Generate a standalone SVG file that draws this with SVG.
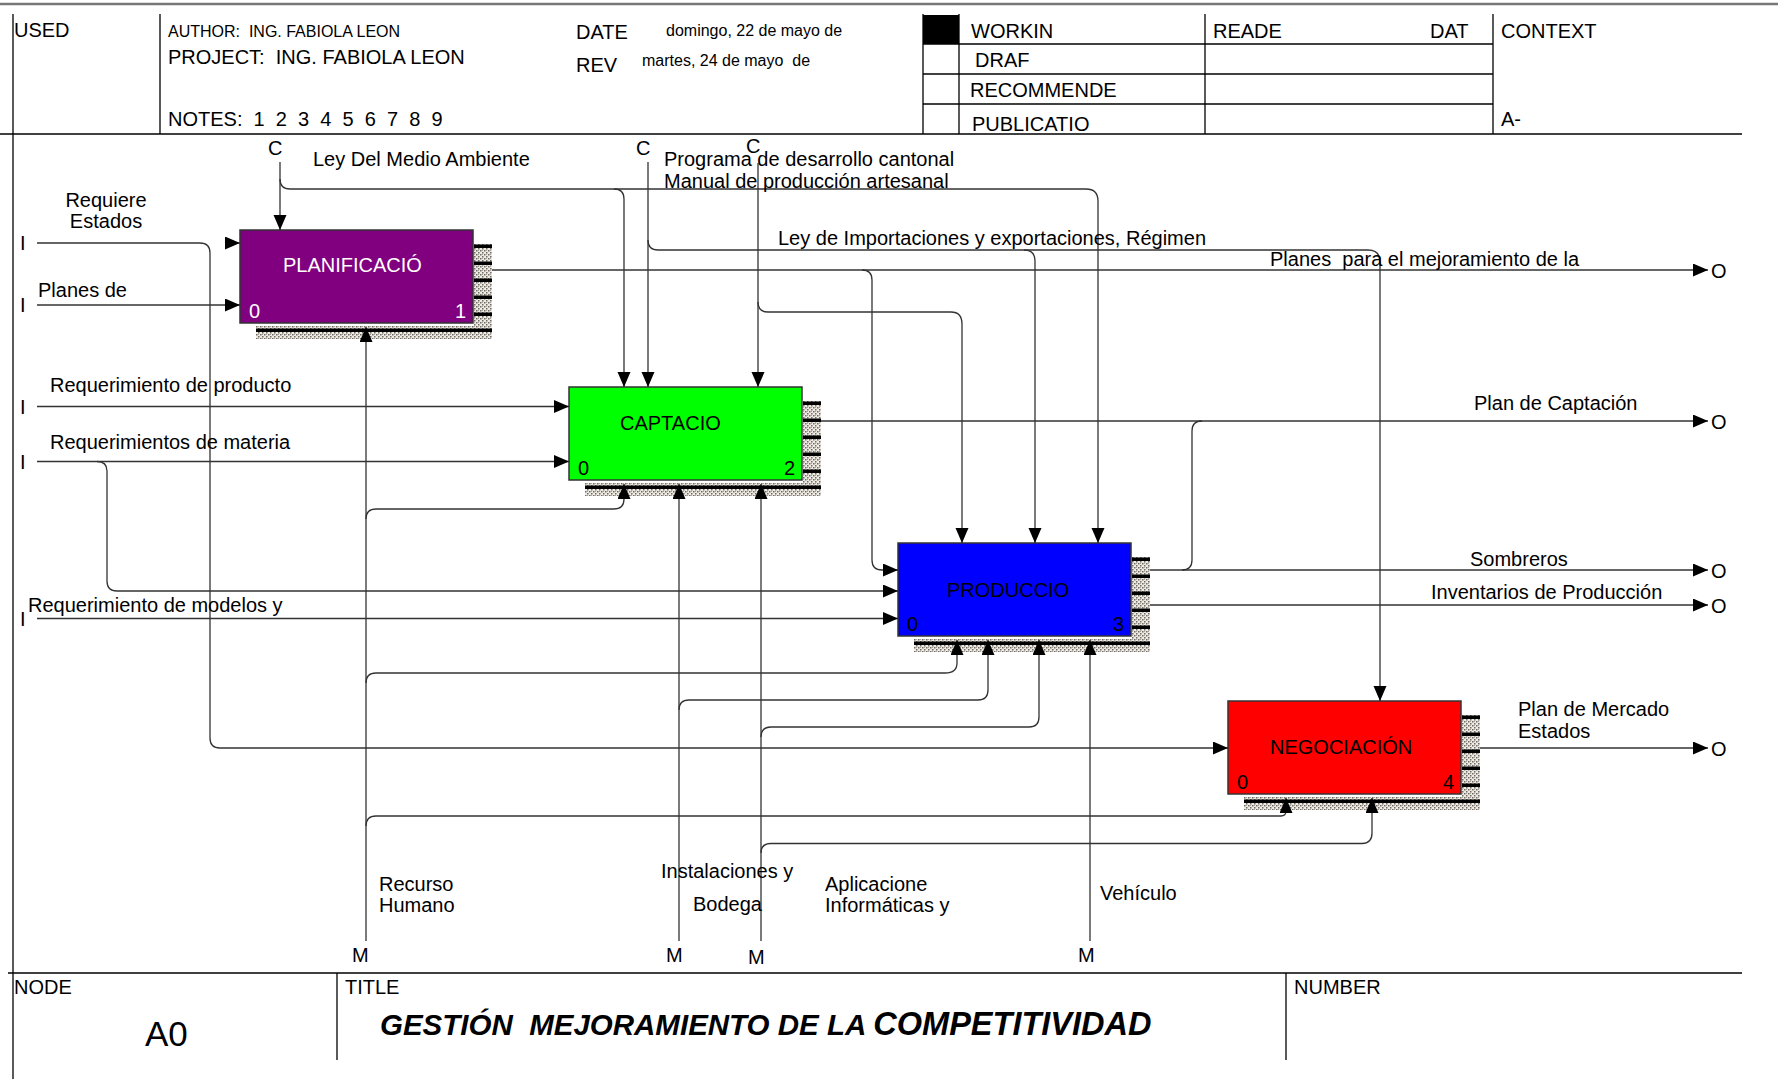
<svg xmlns="http://www.w3.org/2000/svg" xmlns:xlink="http://www.w3.org/1999/xlink" width="1778" height="1079" viewBox="0 0 1778 1079" xml:space="preserve">
<style>
text { font-family: "Liberation Sans", Arial, sans-serif; font-size: 20px; fill: #000; white-space: pre; }
.s16 { font-size: 16px; }
.wt { fill: #fff; }
.ln { fill: none; stroke: #333; stroke-width: 1.3; }
.ar { marker-end: url(#ah); }
.hd { stroke: #000; stroke-width: 1.3; fill: none; }
.box { stroke: #333; stroke-width: 1.5; }
.ttl { font-weight: bold; font-style: italic; }
</style>
<defs>
<marker id="ah" markerWidth="16" markerHeight="14" refX="15" refY="6.5" orient="auto" markerUnits="userSpaceOnUse"><path d="M0,0 L15,6.5 L0,13 z" fill="#000"/></marker>
<pattern id="hatch" width="4" height="4" patternUnits="userSpaceOnUse"><rect width="4" height="4" fill="#eeebe4"/><rect x="0" y="0" width="1.5" height="1.5" fill="#6f6a63"/><rect x="2" y="2" width="1.5" height="1.5" fill="#6f6a63"/><rect x="2" y="0" width="1" height="1" fill="#a9a49c"/></pattern>
<g id="sh">
<rect x="234" y="14" width="18" height="95" fill="url(#hatch)"/>
<rect x="16" y="96" width="236" height="13" fill="url(#hatch)"/>
<rect x="16" y="98.5" width="236" height="3.5" fill="#000"/>
<rect x="234" y="14.5" width="18" height="3.5" fill="#000"/>
<rect x="234" y="31.5" width="18" height="3.5" fill="#000"/>
<rect x="234" y="48.5" width="18" height="3.5" fill="#000"/>
<rect x="234" y="65.5" width="18" height="3.5" fill="#000"/>
<rect x="234" y="82.5" width="18" height="3.5" fill="#000"/>
</g>
</defs>
<rect width="1778" height="1079" fill="#fff"/>

<g id="frame">
<line x1="0" y1="4" x2="1778" y2="4" stroke="#777" stroke-width="2.5"/>
<line class="hd" x1="13" y1="14" x2="13" y2="1079"/>
<line class="hd" x1="0" y1="134" x2="1742" y2="134"/>
<line class="hd" x1="160" y1="14" x2="160" y2="134"/>
<line class="hd" x1="923" y1="14" x2="923" y2="134"/>
<line class="hd" x1="959" y1="14" x2="959" y2="134"/>
<line class="hd" x1="1205" y1="14" x2="1205" y2="134"/>
<line class="hd" x1="1493" y1="14" x2="1493" y2="134"/>
<line class="hd" x1="923" y1="44" x2="1493" y2="44"/>
<line class="hd" x1="923" y1="74" x2="1493" y2="74"/>
<line class="hd" x1="923" y1="104" x2="1493" y2="104"/>
<rect x="923" y="15" width="36" height="29" fill="#000"/>
<text x="14" y="37">USED</text>
<text class="s16" x="168" y="37">AUTHOR:  ING. FABIOLA LEON</text>
<text x="168" y="63.5">PROJECT:  ING. FABIOLA LEON</text>
<text x="168" y="126">NOTES:  1  2  3  4  5  6  7  8  9</text>
<text x="576" y="38.5">DATE</text>
<text class="s16" x="666" y="36">domingo, 22 de mayo de</text>
<text x="576" y="71.5">REV</text>
<text class="s16" x="642" y="66">martes, 24 de mayo  de</text>
<text x="971" y="37.5">WORKIN</text>
<text x="975" y="67">DRAF</text>
<text x="970" y="96.5">RECOMMENDE</text>
<text x="972" y="131">PUBLICATIO</text>
<text x="1213" y="38">READE</text>
<text x="1430" y="38">DAT</text>
<text x="1501" y="38">CONTEXT</text>
<text x="1501" y="126">A-</text>
<line class="hd" x1="8" y1="973" x2="1742" y2="973"/>
<line class="hd" x1="337" y1="973" x2="337" y2="1060"/>
<line class="hd" x1="1286" y1="973" x2="1286" y2="1060"/>
<text x="14" y="993.5">NODE</text>
<text x="345" y="993.5">TITLE</text>
<text x="1294" y="993.5">NUMBER</text>
<text x="145" y="1045.5" style="font-size:35px">A0</text>
<text class="ttl" x="380" y="1035" style="font-size:29.5px">GESTIÓN  MEJORAMIENTO DE LA <tspan style="font-size:32.5px">COMPETITIVIDAD</tspan></text>
</g>

<g id="node-a1">
<use xlink:href="#sh" href="#sh" x="240" y="230"/>
<rect class="box" x="240" y="230" width="233" height="93" fill="#800080"/>
<text class="wt" x="283" y="272">PLANIFICACIÓ</text>
<text class="wt" x="249" y="318">0</text>
<text class="wt" x="466" y="318" text-anchor="end">1</text>
</g>
<g id="node-a2">
<use xlink:href="#sh" href="#sh" x="569" y="387"/>
<rect class="box" x="569" y="387" width="233" height="93" fill="#00ff00"/>
<text x="620" y="430">CAPTACIO</text>
<text x="578" y="475">0</text>
<text x="795" y="475" text-anchor="end">2</text>
</g>
<g id="node-a3">
<use xlink:href="#sh" href="#sh" x="898" y="543"/>
<rect class="box" x="898" y="543" width="233" height="93" fill="#0000ff"/>
<text x="947" y="597">PRODUCCIO</text>
<text x="907" y="631">0</text>
<text x="1124" y="631" text-anchor="end">3</text>
</g>
<g id="node-a4">
<use xlink:href="#sh" href="#sh" x="1228" y="701"/>
<rect class="box" x="1228" y="701" width="233" height="93" fill="#ff0000"/>
<text x="1270" y="753.5">NEGOCIACIÓN</text>
<text x="1237" y="789">0</text>
<text x="1454" y="789" text-anchor="end">4</text>
</g>

<g id="connectors">
<path class="ln ar" d="M37,243 H200 Q210,243 210,253 V738 Q210,748 220,748 H1228"/>
<path class="ln ar" d="M225,243 H240"/>
<path class="ln ar" d="M37,305 H240"/>
<path class="ln ar" d="M37,406.5 H569"/>
<path class="ln ar" d="M37,461.5 H569"/>
<path class="ln ar" d="M97,461.5 Q107,461.5 107,471 V581 Q107,591 117,591 H898"/>
<path class="ln ar" d="M37,618.5 H898"/>
<path class="ln ar" d="M492,270 H1708"/>
<path class="ln ar" d="M862,270 Q872,270 872,280 V560 Q872,570 882,570 H898"/>
<path class="ln ar" d="M821,421 H1708"/>
<path class="ln" d="M1202,421 Q1192,421 1192,431 V560 Q1192,570 1182,570"/>
<path class="ln ar" d="M1150,570 H1708"/>
<path class="ln ar" d="M1150,605 H1708"/>
<path class="ln ar" d="M1480,748 H1708"/>
<path class="ln ar" d="M280,162 V230"/>
<path class="ln ar" d="M280,179 Q280,189 290,189 H1086 Q1098,189 1098,201 V543"/>
<path class="ln ar" d="M614,189 Q624,189 624,199 V387"/>
<path class="ln ar" d="M648,162 V387"/>
<path class="ln ar" d="M648,240 Q648,250 658,250 H1368 Q1380,250 1380,262 V701"/>
<path class="ln ar" d="M1024,250 Q1035,250 1035,261 V543"/>
<path class="ln ar" d="M758,163 V387"/>
<path class="ln ar" d="M758,302 Q758,312 768,312 H951 Q962,312 962,324 V543"/>
<path class="ln ar" d="M366,941 V327"/>
<path class="ln ar" d="M366,519 Q366,509 376,509 H614 Q624,509 624,499 V484"/>
<path class="ln ar" d="M366,683 Q366,673 376,673 H945 Q957,673 957,663 V640"/>
<path class="ln ar" d="M366,826 Q366,816 376,816 H1281 Q1286,816 1286,811 V798"/>
<path class="ln ar" d="M679,941 V484"/>
<path class="ln ar" d="M679,710 Q679,700 689,700 H978 Q988,700 988,690 V640"/>
<path class="ln ar" d="M761,941 V484"/>
<path class="ln ar" d="M761,737 Q761,727 771,727 H1029 Q1039,727 1039,717 V640"/>
<path class="ln ar" d="M761,853 Q761,843.5 771,843.5 H1362 Q1372,843.5 1372,833 V798"/>
<path class="ln ar" d="M1090,941 V640"/>
</g>

<g id="labels">
<text x="20" y="250">I</text>
<text x="20" y="312">I</text>
<text x="20" y="413.5">I</text>
<text x="20" y="468.5">I</text>
<text x="20" y="625.5">I</text>
<text x="106" y="207" text-anchor="middle">Requiere</text>
<text x="106" y="228" text-anchor="middle">Estados</text>
<text x="38" y="297">Planes de</text>
<text x="50" y="392">Requerimiento de producto</text>
<text x="50" y="449">Requerimientos de materia</text>
<text x="28" y="612">Requerimiento de modelos y</text>
<text x="1711" y="278">O</text>
<text x="1711" y="428.5">O</text>
<text x="1711" y="577.5">O</text>
<text x="1711" y="612.5">O</text>
<text x="1711" y="755.5">O</text>
<text x="1270" y="266">Planes  para el mejoramiento de la</text>
<text x="1474" y="410">Plan de Captación</text>
<text x="1470" y="566">Sombreros</text>
<text x="1431" y="599">Inventarios de Producción</text>
<text x="1518" y="715.5">Plan de Mercado</text>
<text x="1518" y="738">Estados</text>
<text x="268" y="155">C</text>
<text x="636" y="155">C</text>
<text x="746" y="153">C</text>
<text x="313" y="165.5">Ley Del Medio Ambiente</text>
<text x="664" y="165.5">Programa de desarrollo cantonal</text>
<text x="664" y="188">Manual de producción artesanal</text>
<text x="778" y="245">Ley de Importaciones y exportaciones, Régimen</text>
<text x="379" y="891">Recurso</text>
<text x="379" y="912">Humano</text>
<text x="661" y="878">Instalaciones y</text>
<text x="693" y="911">Bodega</text>
<text x="825" y="891">Aplicacione</text>
<text x="825" y="912">Informáticas y</text>
<text x="1100" y="900">Vehículo</text>
<text x="352" y="962">M</text>
<text x="666" y="962">M</text>
<text x="748" y="964">M</text>
<text x="1078" y="962">M</text>
</g>
</svg>
